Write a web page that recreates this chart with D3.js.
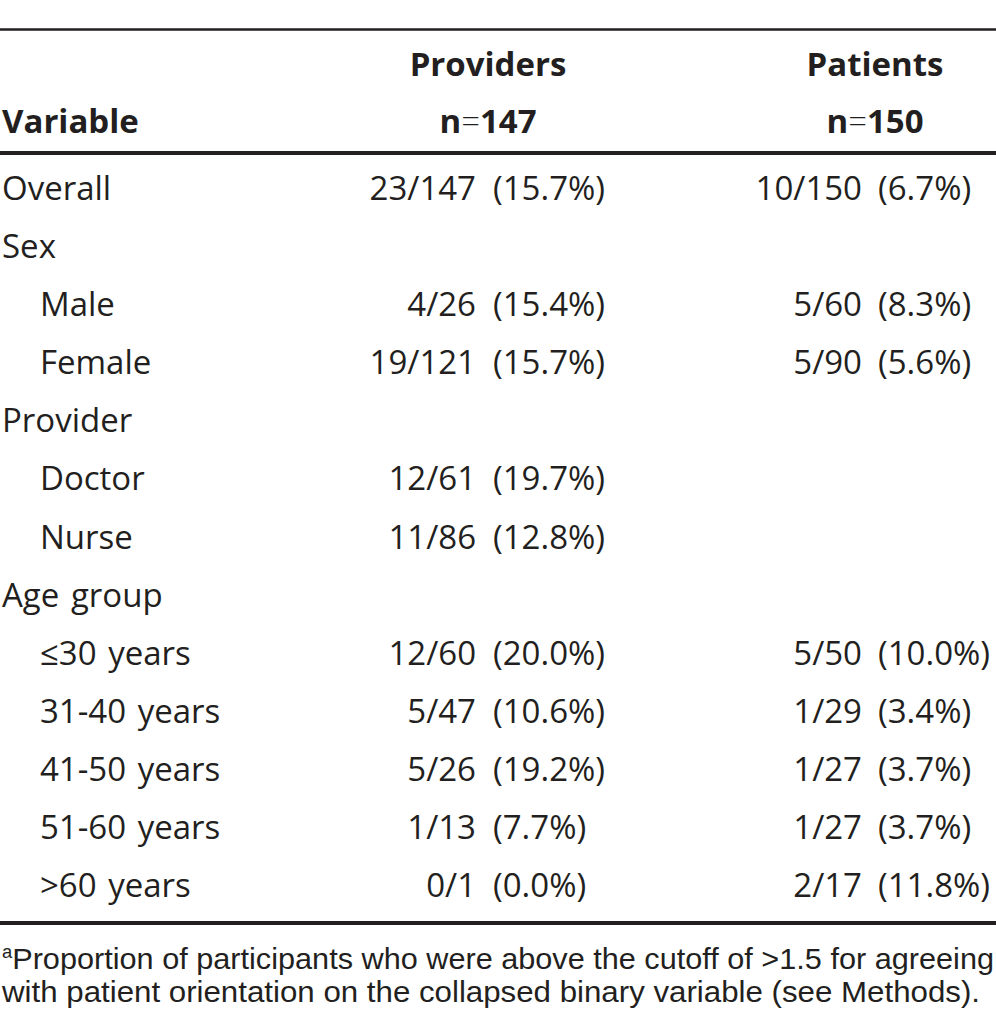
<!DOCTYPE html>
<html>
<head>
<meta charset="utf-8">
<script src="https://cdn.jsdelivr.net/npm/d3@7"></script>
<style>
  html, body { margin: 0; padding: 0; background: #fff; }
  svg { display: block; }
</style>
</head>
<body>
<svg id="t" width="996" height="1029"></svg>
<script>
// ---- Data ----
const rowLabels = ["Overall", "Sex", "Male", "Female", "Provider", "Doctor", "Nurse",
  "Age group", "\u226430 years", "31-40 years", "41-50 years", "51-60 years", ">60 years"];
const rowLevels = [0, 0, 1, 1, 0, 1, 1, 0, 1, 1, 1, 1, 1];
const providerCounts = ["23/147", "", "4/26", "19/121", "", "12/61", "11/86", "", "12/60", "5/47", "5/26", "1/13", "0/1"];
const providerPcts = ["(15.7%)", "", "(15.4%)", "(15.7%)", "", "(19.7%)", "(12.8%)", "", "(20.0%)", "(10.6%)", "(19.2%)", "(7.7%)", "(0.0%)"];
const patientCounts = ["10/150", "", "5/60", "5/90", "", "", "", "", "5/50", "1/29", "1/27", "1/27", "2/17"];
const patientPcts = ["(6.7%)", "", "(8.3%)", "(5.6%)", "", "", "", "", "(10.0%)", "(3.4%)", "(3.7%)", "(3.7%)", "(11.8%)"];
const columnHeaders = ["Providers", "Patients"];
const columnNs = ["147", "150"];
const footnoteLines = ["Proportion of participants who were above the cutoff of >1.5 for agreeing",
  "with patient orientation on the collapsed binary variable (see Methods)."];

// ---- Layout ----
const ink = "#231f20";
const svg = d3.select("#t");
const bodyFont = "'Open Sans', 'Noto Sans', sans-serif";
const fs = 33;

const y = d3.scalePoint().domain(d3.range(rowLabels.length)).range([200, 897]);
const xLevel = d3.scaleOrdinal().domain([0, 1]).range([2, 40]);
const colCenter = d3.scaleOrdinal().domain(columnHeaders).range([488, 875]);
const countRight = [476, 862];
const pctLeft = [493, 878];

// Rules
svg.append("line").attr("x1", 0).attr("x2", 996).attr("y1", 29.5).attr("y2", 29.5)
  .attr("stroke", ink).attr("stroke-width", 2.5);
svg.append("line").attr("x1", 0).attr("x2", 996).attr("y1", 153).attr("y2", 153)
  .attr("stroke", ink).attr("stroke-width", 4);
svg.append("line").attr("x1", 0).attr("x2", 996).attr("y1", 923).attr("y2", 923)
  .attr("stroke", ink).attr("stroke-width", 4);

// Header
const hdr = svg.append("g").attr("font-family", bodyFont).attr("font-weight", 700)
  .attr("font-size", fs).attr("fill", ink);
hdr.append("text").attr("x", 2).attr("y", 133).text("Variable");
columnHeaders.forEach((h, i) => {
  hdr.append("text").attr("x", colCenter(h)).attr("y", 76).attr("text-anchor", "middle").text(h);
  const t = hdr.append("text").attr("x", colCenter(h)).attr("y", 133).attr("text-anchor", "middle");
  t.append("tspan").text("n");
  t.append("tspan").attr("font-weight", 300).text("=");
  t.append("tspan").text(columnNs[i]);
});

// Body
const body = svg.append("g").attr("font-family", bodyFont).attr("font-size", fs).attr("fill", ink);
body.selectAll("text.lab").data(rowLabels).join("text").attr("class", "lab")
  .attr("x", (d, i) => xLevel(rowLevels[i])).attr("y", (d, i) => y(i))
  .attr("word-spacing", 3).text(d => d);

const cols = [[providerCounts, providerPcts], [patientCounts, patientPcts]];
cols.forEach(([counts, pcts], c) => {
  body.selectAll("text.cnt" + c).data(counts).join("text").attr("class", "cnt" + c)
    .attr("x", countRight[c]).attr("y", (d, i) => y(i)).attr("text-anchor", "end").text(d => d);
  body.selectAll("text.pct" + c).data(pcts).join("text").attr("class", "pct" + c)
    .attr("x", pctLeft[c]).attr("y", (d, i) => y(i)).text(d => d);
});

// Footnote
const foot = svg.append("g").attr("font-family", "'Liberation Sans Narrow', 'Liberation Sans', Arial, sans-serif")
  .attr("font-size", 30).attr("fill", ink);
const f1 = foot.append("text").attr("x", 2).attr("y", 969)
  .attr("textLength", 992).attr("lengthAdjust", "spacingAndGlyphs");
f1.append("tspan").attr("font-size", 18).attr("dy", -11).text("a");
f1.append("tspan").attr("dy", 11).text(footnoteLines[0]);
foot.append("text").attr("x", 2).attr("y", 1002)
  .attr("textLength", 978).attr("lengthAdjust", "spacingAndGlyphs").text(footnoteLines[1]);
</script>
</body>
</html>
